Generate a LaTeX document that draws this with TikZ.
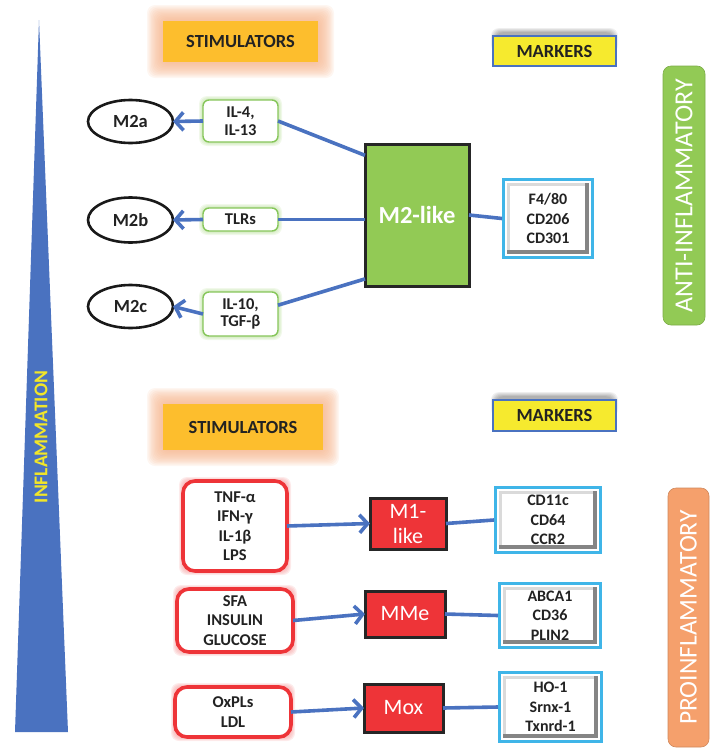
\documentclass[tikz,border=0pt]{standalone}
\usepackage{fontspec}
\setmainfont{Carlito}
\usetikzlibrary{arrows.meta,shapes.geometric,calc}
\definecolor{ablue}{HTML}{4A72C0}
\definecolor{gold}{HTML}{FDBE2D}
\definecolor{peach}{HTML}{F6B48C}
\definecolor{myyellow}{HTML}{F6EA2E}
\definecolor{mygreen}{HTML}{92CA55}
\definecolor{gborder}{HTML}{86C65A}
\definecolor{gglow}{HTML}{B8DE98}
\definecolor{myred}{HTML}{EE3438}
\definecolor{rglow}{HTML}{F59A9A}
\definecolor{salmon}{HTML}{F5A06C}
\definecolor{lblue}{HTML}{3FB5E8}
\definecolor{bevdark}{HTML}{858585}
\definecolor{bevlight}{HTML}{DADADA}
\definecolor{txt}{HTML}{222222}
\definecolor{infyel}{HTML}{F2E628}
\newcommand{\bevelbox}[6]{%
 \fill[lblue] ({#2-#4/2},{#3-#5/2}) rectangle ({#2+#4/2},{#3+#5/2});
 \fill[white] ({#2-#4/2+3},{#3-#5/2+3}) rectangle ({#2+#4/2-3},{#3+#5/2-3});
 \fill[bevdark] ({#2-#4/2+5},{#3-#5/2+5}) rectangle ({#2+#4/2-5},{#3+#5/2-5});
 \fill[bevlight] ({#2-#4/2+5},{#3-#5/2+5}) rectangle ({#2+#4/2-9},{#3+#5/2-9});
 \fill[white] ({#2-#4/2+8},{#3-#5/2+8}) rectangle ({#2+#4/2-9},{#3+#5/2-9});
 \node[marktext, minimum width=#4pt, minimum height=#5pt] (#1) at (#2,#3) {#6};
}
\newcommand{\glowrect}[8]{% x1 y1 x2 y2 color steps spread opacity
 \foreach \i in {1,...,#6}{
  \fill[#5, opacity=#8, rounded corners=8pt]
   ({#1-#7*(#6+1-\i)/#6},{#2-#7*(#6+1-\i)/#6}) rectangle ({#3+#7*(#6+1-\i)/#6},{#4+#7*(#6+1-\i)/#6});
 }
}
\tikzset{
 base/.style={inner sep=0pt, outer sep=0pt, text=txt, align=center},
 stimbox/.style={base, fill=gold, font=\bfseries\fontsize{18.5}{20}\selectfont},
 markbox/.style={base, fill=myyellow, draw=ablue, line width=1.3pt, font=\bfseries\fontsize{18.5}{20}\selectfont},
 m2ell/.style={base, ellipse, draw=black!90, line width=2.6pt, fill=white, minimum width=85pt, minimum height=43pt, font=\bfseries\fontsize{18.5}{20}\selectfont},
 gbox/.style={base, rounded corners=6pt, draw=gborder, line width=1.4pt, fill=white, minimum width=75pt, font=\bfseries\fontsize{16.5}{17.5}\selectfont},
 rbox/.style={base, rounded corners=12pt, draw=myred, line width=3.6pt, fill=white, font=\bfseries\fontsize{16.5}{19.5}\selectfont},
 redcell/.style={base, fill=myred, draw=black!85, line width=3pt, text=white, font=\fontsize{22}{25}\selectfont},
 marktext/.style={base, font=\bfseries\fontsize{16}{19.5}\selectfont},
 sidebar/.style={base, rounded corners=8pt, text=white},
 conn/.style={draw=ablue, line width=3.6pt},
 arr/.style={conn, -{Straight Barb[length=8pt,width=18pt]}},
}
\begin{document}
\begin{tikzpicture}[x=1pt,y=-1pt]
\useasboundingbox (0,0) rectangle (720,755);
% inflammation wedge
\fill[ablue] (15,732) -- (68,732) -- (39,20) -- cycle;
\node[base, rotate=90, text=infyel, font=\bfseries\fontsize{19.5}{20}\selectfont] (infl) at (41,437) {INFLAMMATION};

% ---- upper half ----
\glowrect{163}{21}{318}{62}{peach}{12}{16}{0.12}
\node[stimbox, minimum width=155pt, minimum height=41pt] (stimA) at (240.5,41.5) {STIMULATORS};

\glowrect{496}{33}{613}{48}{black}{6}{5}{0.06}
\node[markbox, minimum width=123pt, minimum height=30pt] (markA) at (554.5,51) {MARKERS};

\node[sidebar, fill=mygreen, draw=mygreen!85!black, line width=0.6pt, minimum width=42pt, minimum height=259pt] (anti) at (684,195.5) {};
\node[base, rotate=90, text=white, font=\fontsize{26}{28}\selectfont] (antitext) at (anti.center) {ANTI-INFLAMMATORY};

\node[m2ell] (m2a) at (130.5,121.5) {M2a};
\node[m2ell, minimum height=45pt] (m2b) at (130.5,220) {M2b};
\node[m2ell] (m2c) at (130.5,306.5) {M2c};

\glowrect{203}{100}{278}{142}{gglow}{4}{4}{0.2}
\glowrect{203}{208}{278}{231}{gglow}{4}{4}{0.2}
\glowrect{203}{292}{278}{336}{gglow}{4}{4}{0.2}
\node[gbox, minimum height=42pt] (il4) at (240.5,121) {IL-4,\\IL-13};
\node[gbox, minimum height=23pt] (tlr) at (240.5,219.5) {TLRs};
\node[gbox, minimum height=44pt] (il10) at (240.5,314) {IL-10,\\TGF-β};

\node[base, fill=mygreen, draw=black!85, line width=3pt, minimum width=104pt, minimum height=142pt, text=white, font=\bfseries\fontsize{24.5}{26}\selectfont] (m2) at (417,215) {M2-like};

\bevelbox{f480}{548}{218.5}{92}{81}{F4/80\\CD206\\CD301}

\draw[arr] (il4.west) -- (m2a.east);
\draw[arr] (tlr.west) -- (m2b.east);
\draw[arr] (il10.west) -- (m2c.east);
\draw[conn] ($(il4.north east)!0.5!(il4.south east)$) -- ($(m2.north west)!0.08!(m2.south west)$);
\draw[conn] (tlr.east) -- (m2.west |- tlr.east);
\draw[conn] ($(il10.north east)!0.3!(il10.south east)$) -- ($(m2.north west)!0.95!(m2.south west)$);
\draw[conn] (m2.east) -- (f480.west);

% ---- lower half ----
\glowrect{163}{404}{323}{450}{peach}{12}{16}{0.12}
\node[stimbox, minimum width=160pt, minimum height=46pt] (stimB) at (243,427) {STIMULATORS};

\glowrect{496}{397}{613}{412}{black}{6}{5}{0.06}
\node[markbox, minimum width=123pt, minimum height=31pt] (markB) at (554.5,415.5) {MARKERS};

\node[sidebar, fill=salmon, draw=salmon!85!black, line width=0.6pt, minimum width=41pt, minimum height=259pt] (pro) at (688.5,617.5) {};
\node[base, rotate=90, text=white, font=\fontsize{25.5}{28}\selectfont] (protext) at (pro.center) {PROINFLAMMATORY};

\glowrect{183}{481}{287}{571}{rglow}{4}{4}{0.2}
\glowrect{177}{589}{293}{652}{rglow}{4}{4}{0.2}
\glowrect{175}{687}{291}{737}{rglow}{4}{4}{0.2}
\node[rbox, minimum width=104pt, minimum height=90pt] (tnf) at (235,526) {TNF-α\\IFN-γ\\IL-1β\\LPS};
\node[rbox, minimum width=116pt, minimum height=63pt] (sfa) at (235,620.5) {SFA\\INSULIN\\GLUCOSE};
\node[rbox, minimum width=116pt, minimum height=50pt] (oxpl) at (233,712) {OxPLs\\LDL};

\node[redcell, minimum width=76pt, minimum height=51pt] (m1) at (408,523.5) {M1-\\like};
\node[redcell, minimum width=80pt, minimum height=46pt] (mme) at (405,614) {MMe};
\node[redcell, minimum width=79pt, minimum height=48pt] (mox) at (403.5,708) {Mox};

\bevelbox{cd11}{548}{520}{108}{68}{CD11c\\CD64\\CCR2}
\bevelbox{abca}{550}{615.5}{104}{67}{ABCA1\\CD36\\PLIN2}
\bevelbox{ho1}{550.5}{707}{105}{72}{HO-1\\Srnx-1\\Txnrd-1}

\draw[arr] (tnf.east) -- (m1.west);
\draw[arr] (sfa.east) -- (mme.west);
\draw[arr] (oxpl.east) -- (mox.west);
\draw[conn] (m1.east) -- (cd11.west);
\draw[conn] (mme.east) -- (abca.west);
\draw[conn] (mox.east) -- (ho1.west);
\end{tikzpicture}
\end{document}
